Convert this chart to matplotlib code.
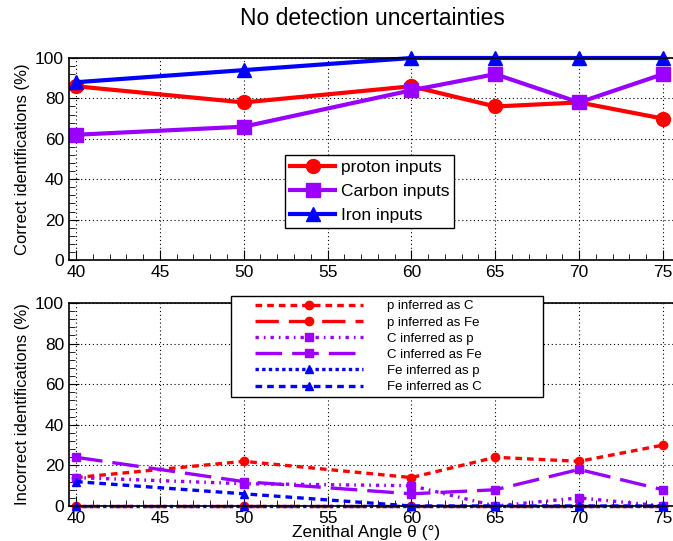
import matplotlib
matplotlib.use("Agg")
import matplotlib.pyplot as plt
from matplotlib.ticker import MultipleLocator
from matplotlib.lines import Line2D
from matplotlib.legend_handler import HandlerLine2D

plt.rcParams['font.family'] = ['Liberation Sans', 'DejaVu Sans']

angles = [40, 50, 60, 65, 70, 75]

# correct identifications (%)
proton_ok = [86, 78, 86, 76, 78, 70]
carbon_ok = [62, 66, 84, 92, 78, 92]
iron_ok = [88, 94, 100, 100, 100, 100]

# incorrect identifications (%)
p_as_C = [14, 22, 14, 24, 22, 30]
p_as_Fe = [0, 0, 0, 0, 0, 0]
C_as_p = [14, 11, 10, 0, 4, 0]
C_as_Fe = [24, 12, 6, 8, 18, 8]
Fe_as_p = [0, 0, 0, 0, 0, 0]
Fe_as_C = [12, 6, 0, 0, 0, 0]

red = "#ff0000"
purple = "#9900ff"
blue = "#0000ff"

fig = plt.figure(figsize=(6.73, 5.41), dpi=100)
ax1 = fig.add_axes([0.1025, 0.5194, 0.902, 0.3734])
ax2 = fig.add_axes([0.1025, 0.0647, 0.902, 0.3752])

def style(ax):
  ax.set_xlim(39.58, 75.78)
  ax.set_ylim(0, 100)
  ax.xaxis.set_major_locator(MultipleLocator(5))
  ax.xaxis.set_minor_locator(MultipleLocator(1))
  ax.yaxis.set_major_locator(MultipleLocator(20))
  ax.yaxis.set_minor_locator(MultipleLocator(4))
  ax.tick_params(which="both", direction="in", labelsize=12.5, top=False, right=False)
  ax.tick_params(which="major", length=7)
  ax.tick_params(which="minor", length=4)
  ax.grid(True, which="major", color="black", linestyle=(0, (1, 2.5)), linewidth=0.8)
  for s in ax.spines.values():
    s.set_linewidth(1.2)

style(ax1)
style(ax2)

ax1.plot(angles, proton_ok, color=red, lw=3, marker="o", ms=10, label="proton inputs")
ax1.plot(angles, carbon_ok, color=purple, lw=3, marker="s", ms=10, label="Carbon inputs")
ax1.plot(angles, iron_ok, color=blue, lw=3, marker="^", ms=10, label="Iron inputs", clip_on=False)
ax1.set_ylabel("Correct identifications (%)", fontsize=12)
leg1 = ax1.legend(loc="upper left", bbox_to_anchor=(0.356, 0.52), borderaxespad=0, fontsize=12.5,
                  fancybox=False, edgecolor="black", framealpha=1,
                  handlelength=2.6, borderpad=0.3, labelspacing=0.5, handletextpad=0.3)
leg1.get_frame().set_linewidth(1.0)

lw = 2.4
ms = 6
ax2.plot(angles, p_as_C, color=red, lw=lw, ls=(0, (2, 1.5)), marker="o", ms=ms, label="p inferred as C", clip_on=False)
ax2.plot(angles, p_as_Fe, color=red, lw=lw, ls=(0, (7, 3)), marker="o", ms=ms, label="p inferred as Fe", clip_on=False)
ax2.plot(angles, C_as_p, color=purple, lw=lw, ls=(0, (1, 1.5, 0.5, 1.5)), marker="s", ms=ms, label="C inferred as p", clip_on=False)
ax2.plot(angles, C_as_Fe, color=purple, lw=lw, ls=(0, (8, 3)), marker="s", ms=ms, label="C inferred as Fe", clip_on=False)
ax2.plot(angles, Fe_as_p, color=blue, lw=lw, ls=(0, (1, 1)), marker="^", ms=ms, label="Fe inferred as p", clip_on=False)
ax2.plot(angles, Fe_as_C, color=blue, lw=lw, ls=(0, (2, 1.5)), marker="^", ms=ms, label="Fe inferred as C", clip_on=False)
ax2.set_ylabel("Incorrect identifications (%)", fontsize=12)
ax2.set_xlabel("Zenithal Angle θ (°)", fontsize=12.5, labelpad=0)
ax2.xaxis.set_label_coords(0.49, -0.095)
leg2 = ax2.legend(loc="upper left", bbox_to_anchor=(0.267, 1.034, 0.514, 0.0), mode="expand",
                  borderaxespad=0, fontsize=9.5, fancybox=False, edgecolor="black", framealpha=1,
                  handlelength=9.7, borderpad=0.3, labelspacing=0.3, handletextpad=1.8,
                  handler_map={Line2D: HandlerLine2D(xpad=1.5)})
leg2.get_frame().set_linewidth(1.0)

fig.text(0.553, 0.965, "No detection uncertainties", ha="center", va="center", fontsize=16.5)

fig.savefig("out.png", dpi=100)
